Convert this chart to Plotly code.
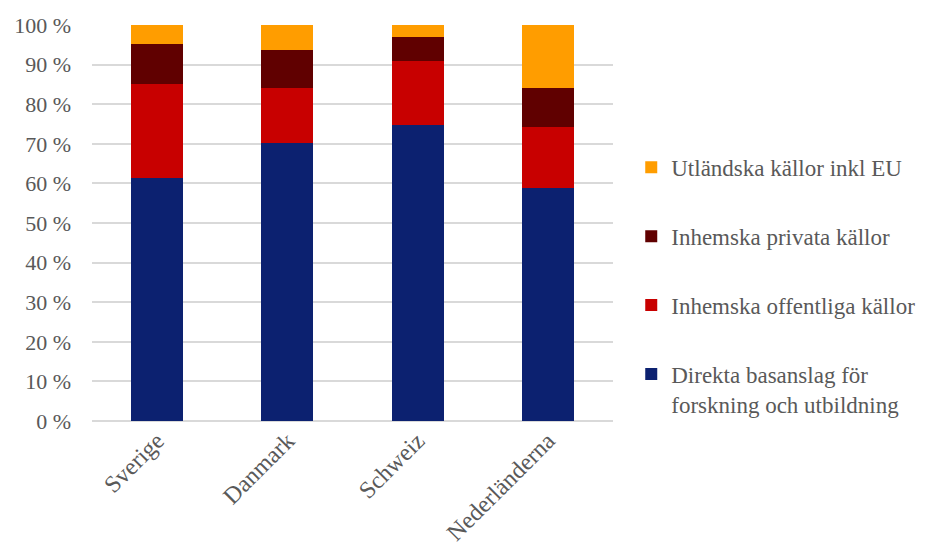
import plotly.graph_objects as go

countries = ["Sverige", "Danmark", "Schweiz", "Nederländerna"]
direkta = [61.4, 70.3, 74.7, 58.9]
offentliga = [23.6, 13.9, 16.3, 15.3]
privata = [10.2, 9.6, 6.0, 10.0]
utlandska = [4.8, 6.2, 3.0, 15.8]

series = [
    ("Direkta basanslag för<br>forskning och utbildning", direkta, "#0C2170"),
    ("Inhemska offentliga källor", offentliga, "#C80000"),
    ("Inhemska privata källor", privata, "#600000"),
    ("Utländska källor inkl EU", utlandska, "#FF9D00"),
]

fig = go.Figure()
for i, (name, vals, col) in enumerate(series):
    fig.add_trace(go.Bar(
        x=countries, y=vals, name=name, legendgroup=str(i),
        legendrank=10 - i,
        marker=dict(color=col, line=dict(width=0)),
    ))

font_fam = "Liberation Serif, Times New Roman, serif"
fig.update_layout(
    barmode="stack",
    bargap=0.6,
    width=928, height=549,
    margin=dict(l=84, r=323, t=17, b=136),
    paper_bgcolor="white", plot_bgcolor="white",
    font=dict(family=font_fam, size=22, color="#595959"),
    showlegend=True,
    legend=dict(
        traceorder="grouped",
        tracegroupgap=36,
        xref="container", yref="container",
        x=0.6716, y=0.749, xanchor="left", yanchor="top",
        font=dict(family=font_fam, size=23, color="#595959"),
        valign="top",
        itemwidth=30,
        maxheight=600,
        bgcolor="rgba(0,0,0,0)",
    ),
    xaxis=dict(
        tickangle=-45, showgrid=False, showline=False, ticks="",
        automargin=False,
        tickfont=dict(family=font_fam, size=24, color="#595959"),
    ),
    yaxis=dict(
        range=[0, 100], dtick=10, ticksuffix=" %",
        showgrid=True, gridcolor="#D9D9D9", gridwidth=1.5,
        zeroline=True, zerolinecolor="#D9D9D9", zerolinewidth=1.5,
        showline=False, ticks="", automargin=False,
        ticklabelstandoff=20,
        tickfont=dict(family=font_fam, size=22, color="#595959"),
    ),
)

fig.write_html("out.html")
